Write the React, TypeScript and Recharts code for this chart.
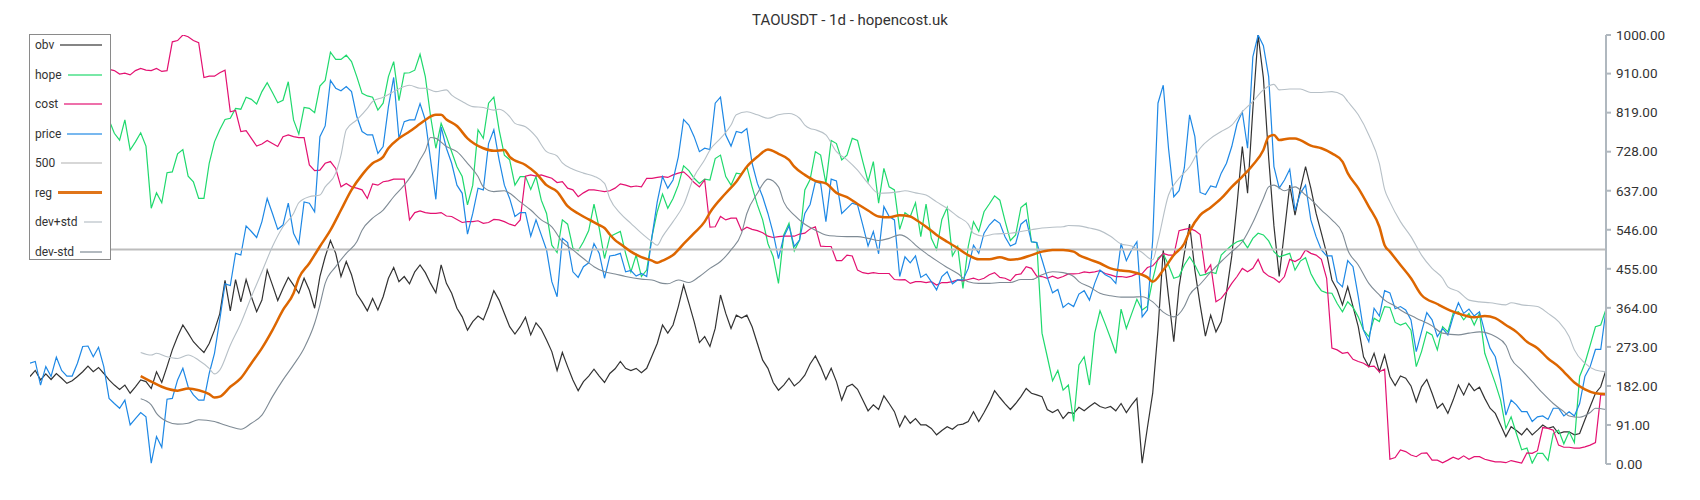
import { LineChart, Line, XAxis, YAxis } from "recharts";

const yTicks = [0, 91, 182, 273, 364, 455, 546, 637, 728, 819, 910, 1000];
const lastDay = 299;
// hope and cost start a little later, hidden under the legend box
const lateStart = 15;

const price = [
  235, 239, 184, 227, 204, 249, 218, 205, 205, 235,
  274, 275, 250, 272, 227, 153, 141, 130, 149, 91,
  106, 120, 110, 2, 64, 39, 151, 153, 196, 223,
  180, 161, 149, 149, 211, 258, 336, 420, 416, 491,
  487, 555, 542, 528, 565, 619, 584, 547, 557, 608,
  538, 513, 611, 608, 588, 763, 788, 894, 876, 870,
  880, 868, 810, 775, 767, 767, 724, 740, 833, 901,
  759, 798, 802, 802, 840, 802, 709, 617, 786, 736,
  701, 650, 631, 536, 584, 643, 639, 747, 779, 709,
  650, 619, 577, 586, 586, 531, 569, 534, 499, 425,
  390, 526, 516, 448, 435, 460, 469, 514, 491, 433,
  485, 487, 491, 448, 451, 438, 444, 437, 530, 611,
  670, 643, 662, 716, 803, 790, 763, 728, 736, 733,
  841, 855, 767, 741, 775, 772, 782, 701, 654, 623,
  584, 538, 479, 530, 555, 507, 522, 584, 605, 658,
  654, 565, 664, 660, 584, 596, 608, 604, 557, 508,
  542, 490, 600, 577, 569, 437, 483, 469, 485, 435,
  443, 425, 406, 437, 448, 420, 429, 429, 456, 510,
  491, 538, 557, 570, 561, 529, 508, 514, 559, 569,
  518, 516, 476, 435, 399, 407, 365, 375, 367, 396,
  404, 382, 421, 452, 441, 435, 421, 514, 474, 499,
  518, 343, 359, 522, 841, 883, 736, 623, 637, 690,
  814, 763, 633, 628, 648, 645, 678, 701, 740, 793,
  821, 736, 949, 1000, 975, 903, 693, 643, 662, 687,
  591, 631, 650, 569, 530, 499, 485, 485, 425, 413,
  474, 460, 390, 312, 285, 363, 345, 404, 399, 362,
  367, 359, 336, 262, 308, 353, 336, 297, 316, 301,
  343, 376, 351, 361, 345, 355, 308, 270, 250, 196,
  114, 149, 138, 122, 122, 99, 110, 112, 104, 130,
  130, 112, 122, 112, 141, 204, 227, 267, 267, 359,
];

const obv = [
  204, 218, 196, 210, 197, 211, 200, 188, 194, 204,
  215, 228, 215, 225, 211, 196, 184, 174, 184, 165,
  180, 196, 192, 176, 215, 190, 227, 266, 297, 324,
  305, 285, 272, 260, 281, 312, 350, 428, 357, 430,
  378, 430, 390, 355, 382, 452, 417, 381, 409, 435,
  417, 398, 433, 405, 363, 437, 483, 521, 491, 437,
  472, 441, 396, 378, 357, 386, 359, 390, 433, 458,
  425, 437, 420, 448, 464, 446, 421, 399, 464, 421,
  398, 363, 343, 312, 332, 345, 336, 367, 404, 382,
  351, 320, 303, 320, 342, 301, 329, 314, 289, 262,
  218, 260, 227, 196, 171, 192, 205, 221, 205, 190,
  211, 222, 239, 223, 218, 223, 213, 223, 252, 281,
  324, 305, 324, 367, 417, 375, 332, 283, 297, 274,
  316, 394, 351, 316, 347, 340, 347, 320, 281, 242,
  223, 190, 172, 184, 200, 182, 192, 207, 233, 252,
  227, 197, 223, 192, 149, 180, 186, 174, 149, 124,
  138, 127, 159, 141, 122, 87, 112, 95, 106, 91,
  91, 83, 68, 78, 87, 81, 91, 93, 99, 122,
  99, 120, 143, 171, 155, 140, 127, 141, 157, 176,
  165, 161, 157, 127, 120, 127, 106, 120, 118, 132,
  124, 134, 143, 134, 130, 134, 124, 141, 120, 138,
  153, 2, 85, 165, 312, 499, 390, 285, 413, 491,
  559, 452, 371, 298, 347, 308, 332, 400, 485, 605,
  740, 631, 827, 1000, 900, 714, 555, 437, 543, 650,
  580, 640, 693, 643, 584, 538, 491, 429, 406, 371,
  413, 367, 320, 250, 227, 258, 215, 254, 204, 183,
  205, 200, 182, 145, 180, 197, 165, 130, 141, 118,
  149, 184, 161, 188, 171, 179, 153, 130, 118, 91,
  64, 87, 78, 68, 83, 68, 79, 91, 83, 87,
  71, 75, 75, 68, 71, 103, 134, 165, 180, 219,
];

const hope = [
  802, 771, 755, 802, 732,
  751, 772, 741, 596, 632, 609, 679, 681, 723, 733,
  671, 658, 619, 619, 701, 751, 779, 803, 806, 829,
  827, 855, 850, 839, 868, 889, 866, 842, 848, 891,
  802, 769, 831, 829, 819, 881, 894, 960, 943, 943,
  953, 938, 903, 864, 858, 855, 825, 841, 903, 938,
  847, 911, 912, 918, 955, 903, 810, 736, 794, 763,
  728, 693, 670, 604, 650, 779, 759, 841, 855, 779,
  720, 709, 650, 670, 670, 640, 670, 615, 584, 510,
  493, 569, 559, 503, 497, 518, 544, 606, 549, 479,
  530, 536, 542, 491, 448, 487, 437, 452, 530, 588,
  629, 596, 619, 650, 695, 684, 666, 654, 664, 662,
  712, 720, 670, 650, 678, 676, 693, 646, 604, 569,
  514, 483, 421, 534, 561, 497, 522, 639, 663, 728,
  720, 654, 754, 747, 709, 720, 759, 754, 705, 658,
  705, 608, 689, 646, 639, 547, 586, 577, 609, 530,
  606, 526, 500, 570, 598, 485, 507, 409, 507, 565,
  542, 588, 606, 625, 615, 566, 521, 534, 598, 608,
  518, 516, 305, 250, 194, 218, 172, 184, 99, 231,
  250, 184, 305, 357, 326, 293, 258, 361, 316, 350,
  384, 359, 368, 430, 480, 490, 464, 433, 437, 464,
  483, 464, 439, 442, 448, 444, 487, 499, 510, 518,
  522, 504, 526, 538, 534, 520, 495, 483, 487, 491,
  452, 473, 481, 444, 421, 404, 399, 398, 374, 355,
  378, 365, 343, 312, 297, 340, 332, 367, 365, 330,
  324, 329, 312, 227, 262, 308, 301, 266, 320, 308,
  351, 355, 336, 351, 324, 351, 258, 223, 188, 149,
  83, 110, 71, 33, 37, 2, 25, 25, 8, 71,
  79, 47, 75, 50, 204, 235, 277, 320, 324, 361,
];

const cost = [
  920, 917, 909, 911, 907,
  917, 922, 918, 917, 922, 915, 917, 984, 987, 1000,
  996, 987, 982, 901, 904, 904, 912, 918, 821, 824,
  775, 777, 759, 741, 746, 754, 747, 740, 763, 767,
  763, 761, 761, 697, 684, 685, 701, 705, 689, 646,
  654, 646, 643, 639, 619, 653, 650, 658, 660, 664,
  664, 664, 569, 586, 590, 586, 584, 584, 586, 578,
  577, 570, 563, 565, 565, 567, 561, 563, 570, 569,
  565, 559, 555, 569, 671, 674, 671, 674, 670, 666,
  656, 658, 643, 639, 623, 632, 639, 639, 637, 635,
  637, 643, 653, 650, 646, 648, 646, 666, 666, 668,
  670, 668, 674, 678, 681, 670, 656, 646, 662, 552,
  553, 577, 569, 573, 573, 544, 552, 547, 544, 539,
  531, 528, 530, 531, 531, 531, 536, 538, 548, 553,
  508, 507, 507, 474, 474, 487, 485, 452, 446, 444,
  446, 444, 444, 444, 430, 429, 430, 421, 425, 425,
  423, 425, 417, 423, 423, 425, 429, 427, 430, 433,
  429, 433, 441, 446, 435, 433, 427, 441, 443, 460,
  456, 438, 437, 433, 438, 433, 437, 443, 443, 444,
  448, 446, 448, 451, 444, 441, 437, 437, 435, 438,
  443, 444, 458, 462, 476, 491, 487, 487, 544, 547,
  549, 544, 535, 446, 464, 378, 386, 402, 421, 437,
  456, 448, 456, 477, 448, 438, 433, 423, 437, 477,
  472, 479, 499, 491, 487, 477, 433, 270, 266, 258,
  260, 244, 239, 235, 227, 228, 215, 221, 11, 15,
  33, 29, 21, 17, 25, 26, 9, 9, 3, 9,
  16, 11, 19, 11, 17, 17, 11, 8, 5, 5,
  3, 8, 5, 2, 26, 25, 31, 85, 83, 79,
  44, 39, 39, 37, 37, 40, 44, 50, 161, 161,
];

// smooth lines, [day, value]
const reg: [number, number][] = [
  [21, 205], [23, 192], [25, 180], [28, 171], [30, 176], [32, 172], [34, 163], [35, 155],
  [36, 157], [38, 180], [40, 200], [42, 235], [44, 270], [46, 312], [48, 359], [50, 398],
  [51, 433], [53, 468], [55, 507], [57, 545], [59, 592], [61, 639], [63, 674], [65, 701],
  [67, 716], [68, 736], [70, 759], [72, 775], [74, 793], [75, 802], [77, 814], [78, 814],
  [79, 803], [81, 788], [83, 759], [86, 736], [88, 730], [90, 732], [91, 716], [94, 697],
  [96, 678], [98, 650], [100, 635], [102, 601], [104, 584], [106, 570], [108, 557], [109, 550],
  [110, 535], [111, 522], [112, 513], [114, 495], [116, 482], [118, 474], [119, 469], [120, 474],
  [122, 487], [124, 513], [126, 538], [128, 565], [129, 586], [132, 631], [134, 658], [136, 693],
  [138, 716], [140, 733], [142, 723], [144, 709], [145, 693], [147, 674], [149, 660], [151, 654],
  [153, 632], [155, 622], [157, 606], [159, 591], [161, 577], [163, 575], [165, 580], [167, 577],
  [168, 570], [170, 553], [172, 534], [174, 518], [176, 503], [178, 487], [180, 477], [182, 477],
  [184, 482], [186, 476], [188, 479], [190, 487], [192, 495], [194, 499], [196, 499], [198, 495],
  [199, 487], [201, 477], [203, 468], [205, 456], [207, 451], [209, 448], [211, 441], [212, 435],
  [213, 425], [215, 452], [217, 487], [219, 514], [220, 542], [222, 580], [224, 598], [226, 619],
  [228, 646], [230, 670], [232, 697], [234, 732], [235, 763], [236, 767], [237, 755], [239, 759],
  [240, 759], [241, 755], [243, 742], [245, 736], [247, 724], [249, 705], [250, 678], [252, 643],
  [254, 600], [256, 553], [257, 510], [258, 495], [260, 464], [262, 433], [264, 394], [267, 373],
  [270, 355], [272, 347], [274, 342], [276, 345], [278, 340], [280, 324], [282, 308], [284, 285],
  [286, 270], [288, 246], [290, 227], [291, 215], [293, 190], [295, 174], [297, 165], [299, 163],
];

const devPlus: [number, number][] = [
  [21, 260], [23, 254], [24, 258], [26, 250], [28, 246], [30, 254], [32, 242], [34, 223],
  [35, 210], [36, 219], [38, 277], [40, 328], [42, 390], [44, 448], [46, 507], [48, 553],
  [50, 584], [51, 609], [53, 623], [55, 627], [56, 646], [58, 678], [59, 720], [60, 779],
  [62, 802], [64, 829], [65, 845], [67, 855], [69, 868], [71, 880], [72, 883], [74, 876],
  [75, 876], [77, 868], [79, 872], [80, 860], [82, 845], [84, 833], [86, 831], [88, 825],
  [89, 827], [91, 810], [92, 794], [94, 786], [96, 763], [98, 728], [100, 718], [101, 702],
  [103, 687], [105, 678], [107, 671], [109, 654], [110, 619], [112, 584], [114, 561], [116, 538],
  [118, 518], [119, 510], [120, 530], [122, 565], [124, 604], [126, 670], [128, 709], [129, 732],
  [131, 759], [133, 790], [134, 814], [136, 821], [138, 814], [140, 806], [142, 814], [144, 817],
  [146, 806], [147, 790], [148, 782], [149, 779], [151, 767], [153, 728], [155, 709], [157, 685],
  [159, 654], [161, 631], [163, 632], [165, 635], [166, 637], [168, 632], [170, 627], [172, 611],
  [174, 596], [176, 577], [178, 559], [179, 538], [181, 531], [183, 536], [186, 538], [188, 542],
  [190, 546], [192, 550], [194, 552], [196, 553], [197, 556], [199, 555], [201, 550], [203, 544],
  [205, 531], [207, 513], [209, 508], [211, 493], [213, 476], [214, 520], [216, 627], [218, 666],
  [220, 693], [222, 736], [224, 759], [226, 775], [228, 790], [230, 821], [232, 845], [234, 872],
  [236, 885], [237, 872], [239, 874], [241, 874], [243, 866], [245, 866], [247, 868], [249, 860],
  [250, 845], [252, 814], [254, 767], [256, 701], [257, 640], [258, 611], [260, 565], [262, 530],
  [264, 487], [266, 456], [268, 433], [269, 413], [271, 402], [273, 382], [275, 378], [277, 376],
  [280, 371], [281, 376], [283, 371], [286, 367], [288, 351], [290, 332], [292, 297], [293, 266],
  [295, 235], [297, 219], [299, 215],
];

const devMinus: [number, number][] = [
  [21, 152], [23, 138], [24, 118], [26, 99], [28, 93], [30, 95], [32, 103], [35, 99],
  [36, 95], [38, 87], [40, 81], [42, 95], [44, 114], [46, 157], [48, 196], [50, 231],
  [52, 270], [54, 328], [55, 371], [56, 421], [58, 460], [60, 491], [62, 518], [63, 545],
  [65, 573], [67, 592], [69, 623], [71, 650], [73, 685], [74, 709], [75, 730], [76, 761],
  [77, 759], [79, 740], [81, 728], [83, 701], [85, 670], [86, 646], [88, 635], [90, 637],
  [91, 631], [93, 611], [95, 592], [97, 569], [99, 553], [101, 518], [103, 499], [105, 479],
  [107, 460], [109, 448], [111, 443], [113, 437], [116, 431], [118, 429], [120, 421], [121, 420],
  [123, 429], [125, 423], [127, 437], [129, 456], [131, 472], [133, 499], [135, 538], [136, 584],
  [138, 631], [140, 664], [142, 646], [143, 611], [145, 580], [147, 559], [149, 545], [151, 534],
  [153, 531], [155, 530], [157, 530], [159, 526], [161, 521], [163, 526], [165, 534], [167, 522],
  [168, 510], [170, 491], [172, 474], [174, 458], [176, 444], [178, 425], [180, 421], [182, 421],
  [184, 423], [186, 423], [188, 430], [190, 430], [192, 441], [194, 448], [196, 446], [198, 437],
  [199, 425], [201, 413], [203, 398], [205, 392], [207, 389], [209, 389], [211, 390], [213, 378],
  [215, 354], [217, 343], [219, 367], [220, 394], [222, 419], [224, 447], [226, 472], [228, 495],
  [230, 518], [232, 563], [234, 619], [235, 646], [236, 650], [238, 637], [240, 646], [242, 627],
  [243, 617], [245, 592], [247, 569], [249, 538], [250, 499], [252, 464], [254, 421], [256, 394],
  [257, 382], [259, 368], [260, 359], [263, 340], [266, 322], [268, 305], [271, 301], [273, 305],
  [275, 308], [278, 297], [280, 277], [281, 246], [283, 219], [285, 192], [287, 165], [289, 141],
  [291, 122], [292, 112], [294, 109], [296, 120], [297, 130], [299, 127],
];

const level500: [number, number][] = [[0, 500], [lastDay, 500]];

const table = price.map((p, day) => ({
  day,
  price: p,
  obv: obv[day],
  hope: day >= lateStart ? hope[day - lateStart] : null,
  cost: day >= lateStart ? cost[day - lateStart] : null,
}));

const toPoints = (pts: [number, number][]) => pts.map(([day, v]) => ({ day, v }));

const legendItems = [
  { name: "obv", color: "#333333", width: 2 },
  { name: "hope", color: "#1fd96d", width: 2 },
  { name: "cost", color: "#e31171", width: 2 },
  { name: "price", color: "#1e88e5", width: 2 },
  { name: "500", color: "#bdbdbd", width: 2 },
  { name: "reg", color: "#dd6600", width: 2.5 },
  { name: "dev+std", color: "#b7c0c7", width: 2 },
  { name: "dev-std", color: "#7f8b95", width: 2 },
];

function ChartLegend() {
  return (
    <div
      style={{
        position: "absolute",
        left: 29,
        top: 34,
        width: 80,
        height: 224,
        border: "1.5px solid #8a8a8a",
        background: "#fff",
        fontFamily: "Roboto, sans-serif",
        fontSize: 12,
        color: "#333",
      }}
    >
      {legendItems.map((item, i) => (
        <div
          key={item.name}
          style={{
            position: "absolute",
            left: 5,
            right: 8,
            top: 2 + i * 29.5,
            height: 16,
            display: "flex",
            alignItems: "center",
            gap: 6,
          }}
        >
          <span>{item.name}</span>
          <div
            style={{
              flex: 1,
              height: item.width,
              background: item.color,
              opacity: item.name === "reg" ? 0.9 : 0.6,
            }}
          />
        </div>
      ))}
    </div>
  );
}

export default function App() {
  return (
    <div
      style={{
        position: "absolute",
        left: 0,
        top: 0,
        width: 1700,
        height: 500,
        background: "#fff",
      }}
    >
      <div
        style={{
          position: "absolute",
          left: 0,
          top: 11,
          width: 1700,
          textAlign: "center",
          fontFamily: "Roboto, sans-serif",
          fontSize: 15,
          lineHeight: "18px",
          color: "#333",
        }}
      >
        TAOUSDT - 1d - hopencost.uk
      </div>

      <LineChart
        width={1700}
        height={500}
        data={table}
        margin={{ top: 35, right: 14, bottom: 36, left: 30 }}
      >
        <XAxis
          type="number"
          dataKey="day"
          domain={[0, lastDay]}
          allowDataOverflow
          hide
        />
        <YAxis
          orientation="right"
          domain={[0, 1000]}
          ticks={yTicks}
          interval={0}
          allowDataOverflow
          width={80}
          tickFormatter={(v: number) => v.toFixed(2)}
          axisLine={{ stroke: "#b0b8bf", strokeWidth: 2 }}
          tickLine={{ stroke: "#b0b8bf", strokeWidth: 2 }}
          tickSize={5}
          tickMargin={5}
          tick={{ fill: "#333", fontSize: 13.5, fontFamily: "Roboto, sans-serif" }}
        />

        <Line type="linear" dataKey="obv" stroke="#333333" strokeWidth={1.2} dot={false} isAnimationActive={false} />
        <Line type="linear" dataKey="hope" stroke="#1fd96d" strokeWidth={1.2} dot={false} isAnimationActive={false} />
        <Line type="linear" dataKey="cost" stroke="#e31171" strokeWidth={1.2} dot={false} isAnimationActive={false} />
        <Line type="linear" dataKey="price" stroke="#1e88e5" strokeWidth={1.2} dot={false} isAnimationActive={false} />
        <Line type="linear" data={toPoints(level500)} dataKey="v" stroke="#bdbdbd" strokeWidth={1.8} dot={false} isAnimationActive={false} />
        <Line type="monotone" data={toPoints(reg)} dataKey="v" stroke="#dd6600" strokeWidth={2.5} dot={false} isAnimationActive={false} />
        <Line type="monotone" data={toPoints(devPlus)} dataKey="v" stroke="#b7c0c7" strokeWidth={1.1} dot={false} isAnimationActive={false} />
        <Line type="monotone" data={toPoints(devMinus)} dataKey="v" stroke="#7f8b95" strokeWidth={1.1} dot={false} isAnimationActive={false} />
      </LineChart>

      <ChartLegend />
    </div>
  );
}
